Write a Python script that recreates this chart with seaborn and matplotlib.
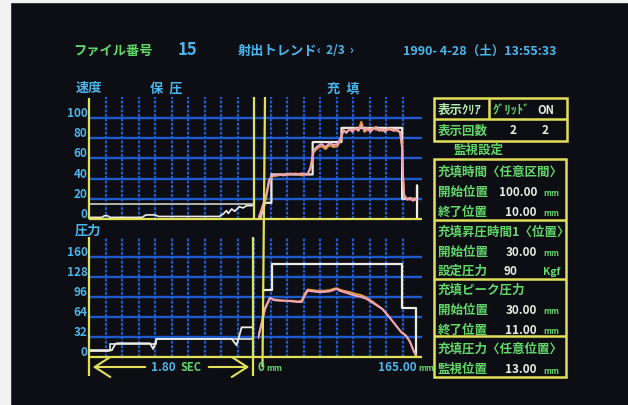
import matplotlib
matplotlib.use("Agg")
import matplotlib.pyplot as plt
import matplotlib.transforms as mtransforms
from matplotlib.patches import Rectangle, FancyArrowPatch
from matplotlib.lines import Line2D
import seaborn as sns

sns.set_style("dark")
plt.rcParams["font.family"] = ["Noto Sans CJK JP", "DejaVu Sans"]

W, H = 628, 406

# ---------------- data ----------------
vel_ticks = [0, 20, 40, 60, 80, 100]
prs_ticks = [0, 32, 64, 96, 128, 160]
hold_span_sec = 1.80
fill_span_mm = 165.0

# hold phase, injection speed (time in s)
hold_vel_t = [0, 0.14, 0.17, 0.20, 0.23, 0.58, 0.62, 0.72, 0.76, 1.42, 1.465,
              1.50, 1.52, 1.556, 1.59, 1.64, 1.68, 1.72, 1.78]
hold_vel = [1.6, 1.6, 3.3, 3.3, 1.6, 1.6, 4, 4, 2.5, 2.5, 5,
            8.2, 5.5, 9.9, 7.6, 12.2, 10.9, 13.2, 13.2]
hold_vel_limit_t = [0, 1.8]
hold_vel_limit = [15, 15]

# filling phase, injection speed (position in mm)
fill_vel_set_x = [2, 7, 13.5, 13.5, 55, 55, 84, 84, 145, 145, 160, 160, 160]
fill_vel_set = [0, 16, 16, 44, 44, 76, 76, 90, 90, 20, 20, 33, 0]
fill_vel_x = [0, 2, 5, 8, 11, 14, 20, 26, 32, 38, 44, 50, 53, 56, 60, 64, 68, 72,
              76, 80, 83, 86, 89, 92, 95, 98, 101, 104, 107, 110, 113, 116, 119,
              122, 125, 128, 131, 134, 137, 140, 143, 145, 146, 147, 150, 153, 156, 159]
fill_vel_shot1 = [0, 5, 14, 22, 38, 43, 44, 43, 45, 44, 45, 44, 52, 68, 72, 74, 71, 75,
                  73, 74, 80, 87, 85, 89, 86, 90, 87, 92, 88, 90, 86, 89, 91,
                  87, 89, 86, 90, 88, 87, 89, 85, 70, 40, 22, 19, 21, 18, 20]
fill_vel_shot2 = [0, 4, 12, 20, 36, 42, 43, 44, 44, 45, 43, 45, 50, 66, 70, 72, 69, 73,
                  71, 72, 78, 88, 86, 88, 88, 89, 88, 96, 86, 88, 88, 90, 88,
                  89, 87, 88, 88, 89, 88, 87, 86, 72, 42, 24, 20, 19, 20, 19]

# hold phase, pressure (time in s)
hold_prs_set_t = [0, 0.23, 0.23, 0.73, 0.73, 1.8]
hold_prs_set = [11, 11, 21, 21, 29, 29]
hold_prs_t = [0, 0.21, 0.25, 0.28, 0.30, 0.665, 0.70, 0.74, 1.556, 1.61, 1.665, 1.8]
hold_prs = [9.6, 9.6, 11, 19, 22, 22, 12.8, 29, 29, 18.7, 47.5, 47.5]

# filling phase, pressure (position in mm)
fill_prs_set_x = [5, 14.5, 14.5, 145, 145, 158.5, 158.5]
fill_prs_set = [108, 108, 149, 149, 78, 78, 0]
fill_prs_x = [0, 3, 7, 12, 16, 22, 28, 34, 40, 44, 47, 50, 55, 60, 66, 72, 76, 79,
              82, 86, 92, 98, 104, 109, 114, 120, 125, 130, 135, 139, 144, 149, 153, 156, 159]
fill_prs_shot1 = [30, 50, 78, 95, 91, 90, 90, 89, 88, 88, 98, 106, 105, 104, 104, 105, 107, 109,
                  106, 104, 101, 98, 96, 93, 88, 82, 77, 68, 58, 50, 40, 34, 24, 12, 2]
fill_prs_shot2 = [30, 49, 76, 94, 92, 91, 90, 90, 89, 90, 101, 108, 107, 106, 106, 107, 109, 110,
                  108, 106, 104, 101, 99, 95, 90, 83, 77, 68, 58, 50, 40, 34, 24, 12, 2]

# ---------------- colours ----------------
BG = "#0d0e14"
BLUE = "#1f5fd8"
YELLOW = "#e2e058"
CYAN = "#4ab6ee"
GREEN = "#62d86a"
WHITE = "#ecece4"
PINK = "#f0a4bc"
ORANGE = "#e49a40"

fig = plt.figure(figsize=(W / 100, H / 100), dpi=100)
fig.patch.set_facecolor(BG)


def fx(px):
    return px / W


def fy(py):
    return 1 - py / H


def axes_px(x0, y0, x1, y1):
    ax = fig.add_axes([x0 / W, 1 - y1 / H, (x1 - x0) / W, (y1 - y0) / H])
    ax.set_facecolor("none")
    return ax


def fig_line(x0, y0, x1, y1, color=YELLOW, lw=1.6):
    fig.add_artist(Line2D([fx(x0), fx(x1)], [fy(y0), fy(y1)],
                          transform=fig.transFigure, color=color, lw=lw,
                          solid_capstyle="butt"))


def fig_text(px, py, s, color, size, ha="left", weight="bold", **kw):
    fig.text(fx(px), fy(py), s, color=color, fontsize=size, ha=ha, va="center",
             fontweight=weight, **kw)


def trace(ax, x, y, color, lw=1.3):
    sns.lineplot(x=x, y=y, ax=ax, color=color, lw=lw, estimator=None,
                 sort=False, legend=False)


# photo margin on the left and top edge
fig.add_artist(Rectangle((0, 0), 10 / W, 1, transform=fig.transFigure,
                         color="#f2f2f2", zorder=-5))
fig.add_artist(Rectangle((0, 1 - 3 / H), 1, 3 / H, transform=fig.transFigure,
                         color="#f2f2f2", zorder=-5))

# ---------------- grids with tick labels ----------------
DIV = 16.5
n_div = (422 - 89) / DIV


def grid_axes(y0, y1, ticks, top):
    ax = axes_px(89, y0, 422, y1)
    ax.set_xlim(0, n_div)
    ax.set_ylim(0, top)
    for v in ticks[1:]:
        ax.axhline(v, color=BLUE, lw=1.7, alpha=0.95)
    for k in range(1, 20):
        ax.axvline(k, color=BLUE, lw=1.6, ls=(0, (1.3, 0.7)), alpha=0.95)
    ax.set_xticks([])
    ax.set_yticks(ticks)
    ax.set_yticklabels([str(t) for t in ticks])
    ax.tick_params(axis="y", length=0, pad=1, labelcolor=CYAN, labelsize=8.5)
    off = mtransforms.ScaledTranslation(0, 0.07, fig.dpi_scale_trans)
    for lbl in ax.get_yticklabels():
        lbl.set_transform(lbl.get_transform() + off)
        lbl.set_fontweight("bold")
    for s in ax.spines.values():
        s.set_visible(False)
    ax.grid(False)
    return ax


top_v = 120.5
top_p = 192.0
grid_axes(98, 220, vel_ticks, top_v)
grid_axes(238, 358, prs_ticks, top_p)

# ---------------- traces ----------------
ax_hv = axes_px(89, 98, 254, 220)
trace(ax_hv, hold_vel_limit_t, hold_vel_limit, "#b4b4ac", 1.4)
trace(ax_hv, hold_vel_t, hold_vel, WHITE, 1.2)
ax_hv.set_xlim(0, hold_span_sec)
ax_hv.set_ylim(0, top_v)

ax_fv = axes_px(258, 98, 422, 220)
trace(ax_fv, fill_vel_set_x, fill_vel_set, WHITE, 1.6)
trace(ax_fv, fill_vel_x, fill_vel_shot2, ORANGE, 1.4)
trace(ax_fv, fill_vel_x, fill_vel_shot1, PINK, 1.4)
ax_fv.set_xlim(0, fill_span_mm)
ax_fv.set_ylim(0, top_v)

ax_hp = axes_px(89, 238, 254, 358)
trace(ax_hp, hold_prs_set_t, hold_prs_set, "#c8c8c0", 1.4)
trace(ax_hp, hold_prs_t, hold_prs, WHITE, 1.3)
ax_hp.set_xlim(0, hold_span_sec)
ax_hp.set_ylim(0, top_p)

ax_fp = axes_px(258, 238, 422, 358)
trace(ax_fp, fill_prs_set_x, fill_prs_set, WHITE, 1.6)
trace(ax_fp, fill_prs_x, fill_prs_shot2, ORANGE, 1.4)
trace(ax_fp, fill_prs_x, fill_prs_shot1, PINK, 1.4)
ax_fp.set_xlim(0, fill_span_mm)
ax_fp.set_ylim(0, top_p)

for ax in (ax_hv, ax_fv, ax_hp, ax_fp):
    ax.set_axis_off()

# ---------------- frame lines ----------------
fig_line(89, 99, 89, 220)
fig_line(89, 238, 89, 377)
fig_line(254, 98, 254, 220)
fig_line(253, 238, 253, 377)
fig_line(265, 98, 262.5, 368)
fig_line(89, 220, 422, 220)
fig_line(89, 358, 422, 358)

# time span arrow
for xa, xb in ((148, 90), (206, 252)):
    fig.add_artist(FancyArrowPatch((fx(xa), fy(368)), (fx(xb), fy(368)),
                                   transform=fig.transFigure,
                                   arrowstyle="->,head_length=0.7,head_width=0.45",
                                   mutation_scale=16, color=YELLOW, lw=1.5))
fig_text(151, 368, "1.80", CYAN, 8.5)
fig_text(181, 368, "SEC", GREEN, 8)
fig_text(257, 368, "0", GREEN, 8.5)
fig_text(266, 369, "mm", GREEN, 6)
fig_text(378, 368, "165.00", CYAN, 8.5)
fig_text(418, 369, "mm", GREEN, 6)

# ---------------- header ----------------
fig_text(73, 51, "ファイル番号", GREEN, 9.5)
fig_text(178, 50, "15", CYAN, 12)
fig_text(238, 51, "射出トレンド", CYAN, 9.5)
fig_text(317, 51, "‹  2/3  ›", CYAN, 8.5)
fig_text(403, 51, "1990- 4-28（土）13:55:33", CYAN, 9)

fig_text(76, 88, "速度", CYAN, 9.5)
fig_text(150, 89, "保  圧", CYAN, 9.5)
fig_text(327, 89, "充  填", CYAN, 9.5)
fig_text(75, 231, "圧力", CYAN, 9.5)


# ---------------- monitor settings panel ----------------
def box(x0, y0, x1, y1):
    fig.add_artist(Rectangle((fx(x0), fy(y1)), (x1 - x0) / W, (y1 - y0) / H,
                             transform=fig.transFigure, fill=False,
                             ec=YELLOW, lw=1.8))


box(434, 99, 567, 142)
fig_line(434, 120, 567, 120, lw=1.8)
fig_line(489, 99, 489, 120, lw=1.8)
box(434, 160, 566, 378)
fig_line(434, 221, 566, 221, lw=1.8)
fig_line(434, 280, 566, 280, lw=1.8)
fig_line(434, 337, 566, 337, lw=1.8)

LG = "#b6ecb0"
fig_text(438, 110, "表示ｸﾘｱ", LG, 9)
fig_text(493, 110, "ｸﾞﾘｯﾄﾞ", GREEN, 9)
fig_text(537, 110, "ON", WHITE, 8)
fig_text(438, 131, "表示回数", GREEN, 9)
fig_text(513, 131, "2", WHITE, 8.5, ha="center")
fig_text(545, 131, "2", WHITE, 8.5, ha="center")
fig_text(453, 150, "監視設定", GREEN, 9)

rows = [
    (172, "充填時間〈任意区間〉", None, None),
    (192, "開始位置", "100.00", "mm"),
    (212, "終了位置", "10.00", "mm"),
    (232, "充填昇圧時間1〈位置〉", None, None),
    (252, "開始位置", "30.00", "mm"),
    (271, "設定圧力", "90", "Kgf"),
    (290, "充填ピーク圧力", None, None),
    (310, "開始位置", "30.00", "mm"),
    (330, "終了位置", "11.00", "mm"),
    (349, "充填圧力〈任意位置〉", None, None),
    (369, "監視位置", "13.00", "mm"),
]
for py, label, value, unit in rows:
    fig_text(438, py, label, GREEN, 9)
    if value is not None:
        if unit == "Kgf":
            fig_text(503, py + 1, value, WHITE, 8.5)
            fig_text(543, py + 1, unit, GREEN, 7.5)
        else:
            fig_text(537, py + 1, value, WHITE, 8.5, ha="right")
            fig_text(543, py + 2, unit, GREEN, 6)

fig.savefig("out.png", dpi=100, facecolor=fig.get_facecolor())
